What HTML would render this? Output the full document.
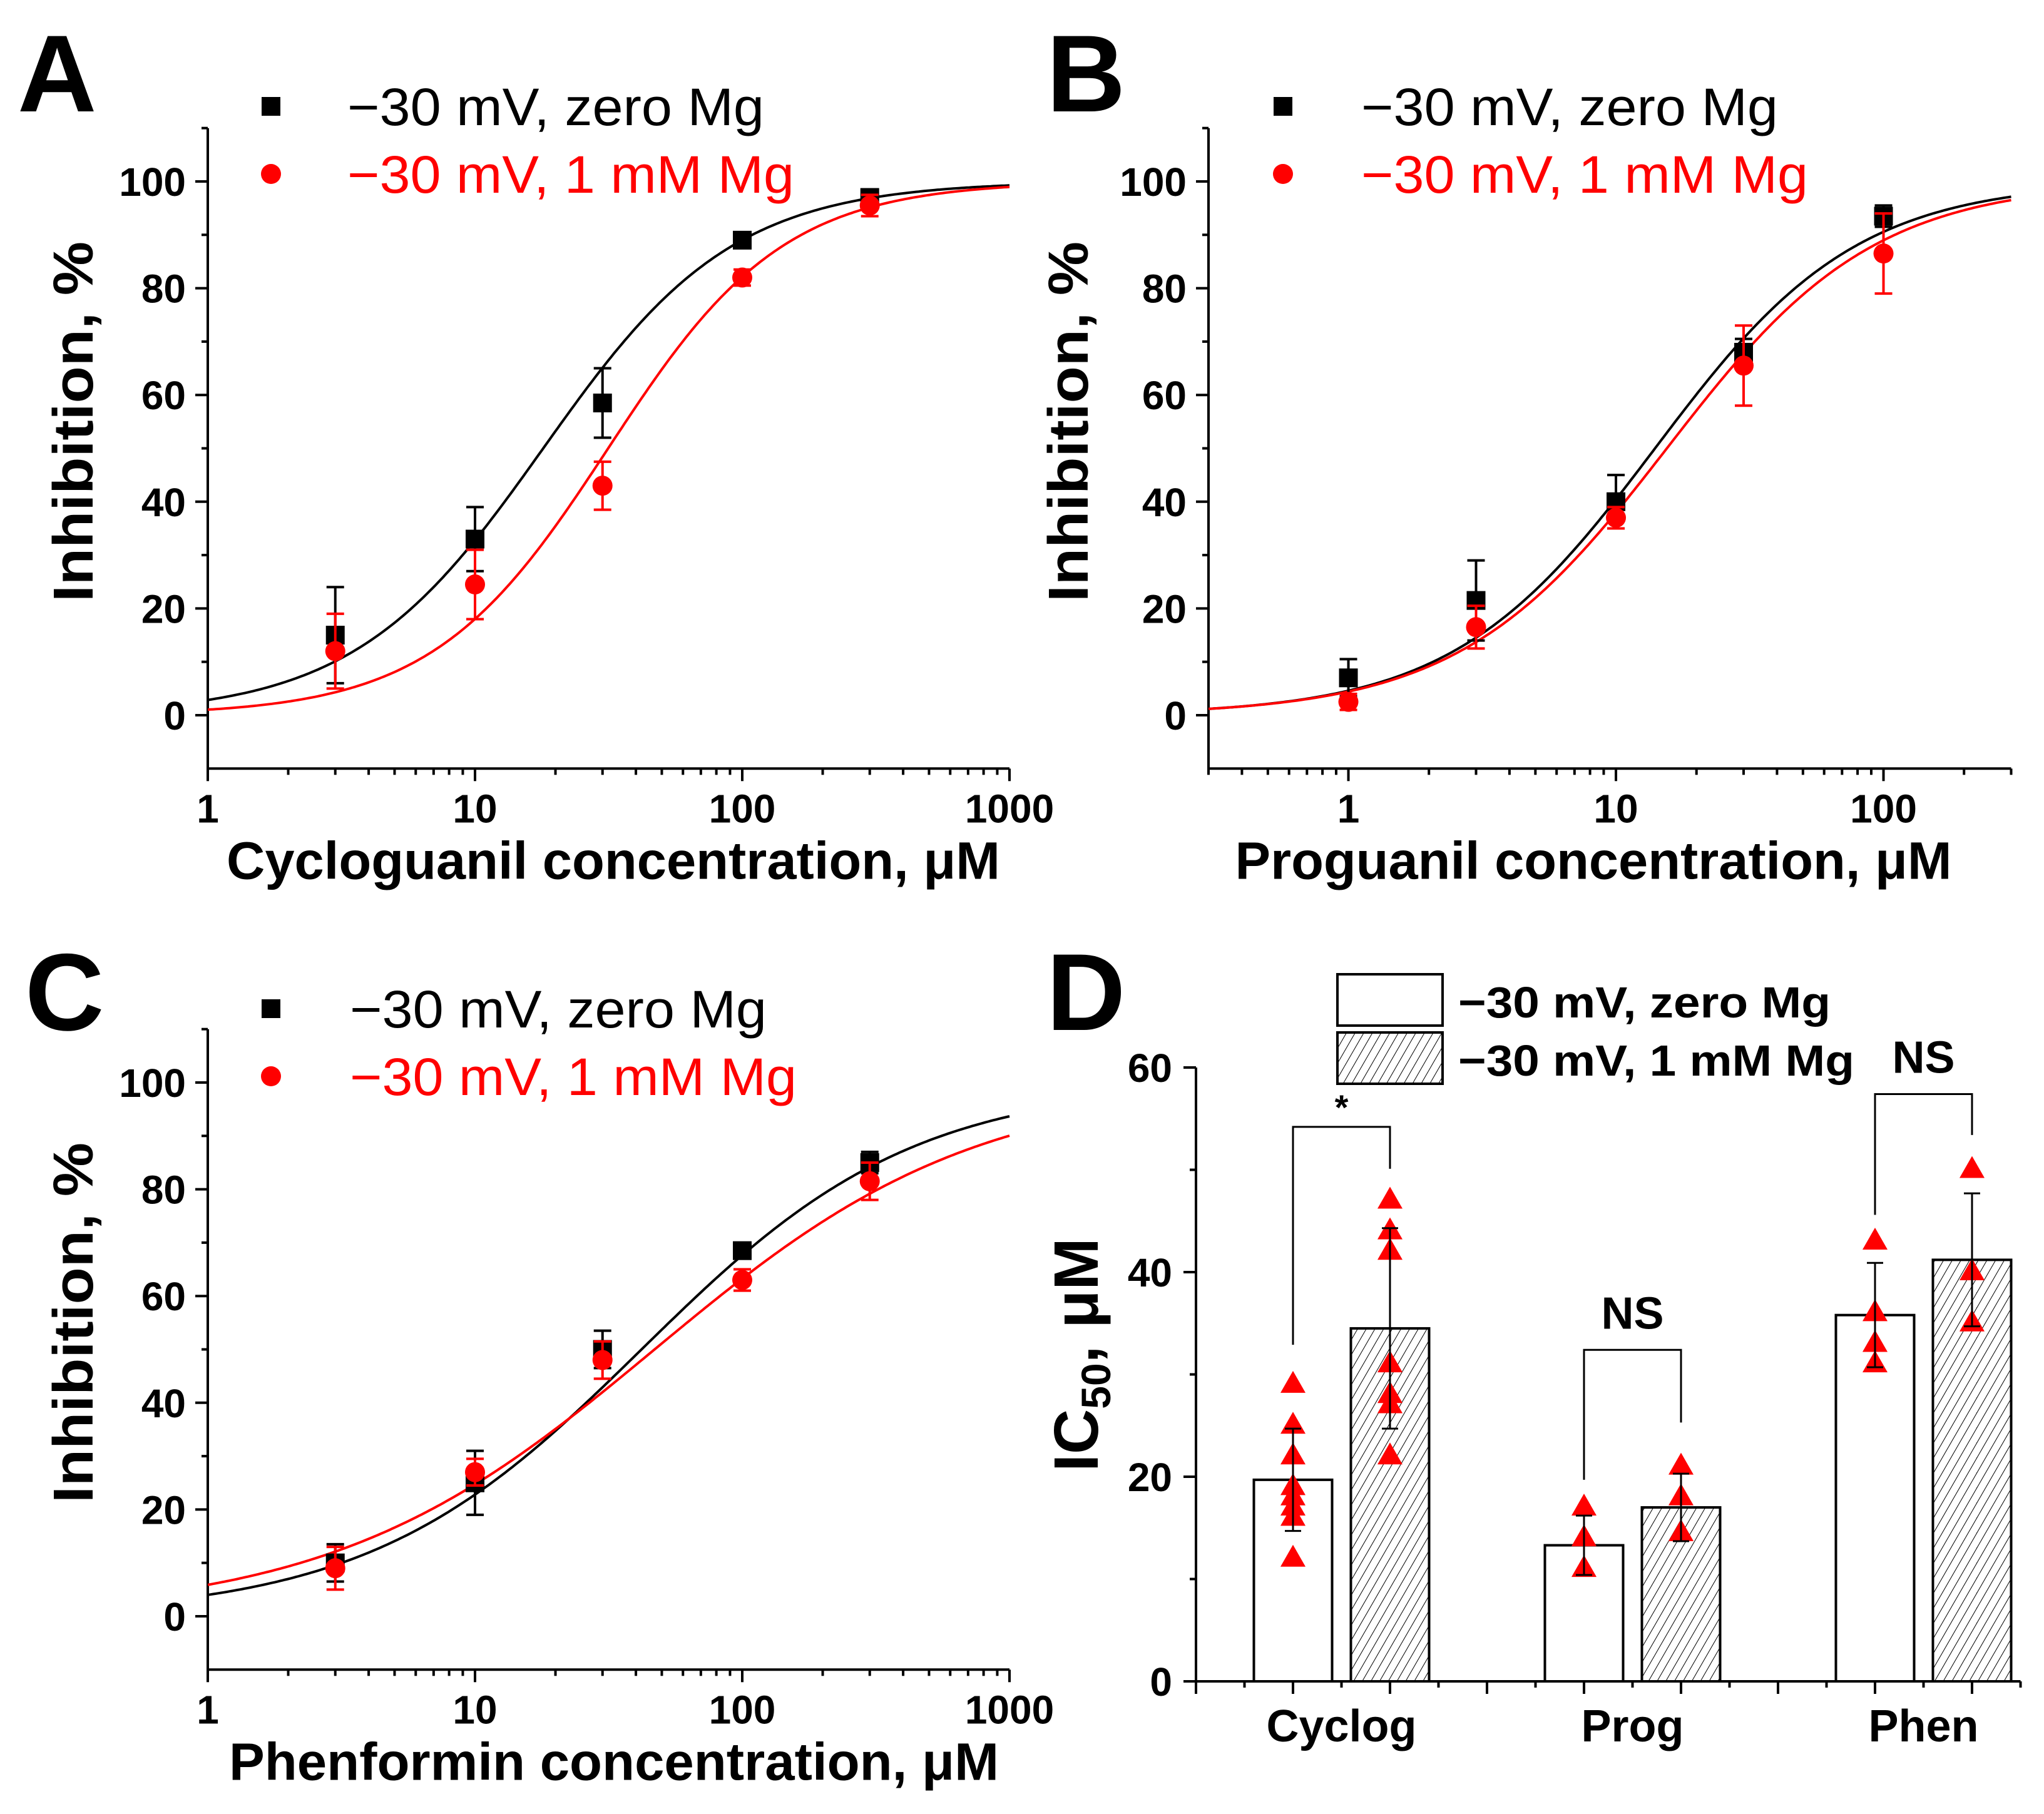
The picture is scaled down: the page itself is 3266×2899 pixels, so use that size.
<!DOCTYPE html>
<html><head><meta charset="utf-8"><style>
html,body{margin:0;padding:0;background:#fff}
svg{display:block}
text{font-family:"Liberation Sans",Arial,sans-serif}
</style></head><body>
<svg id="fig" xmlns="http://www.w3.org/2000/svg" width="3266" height="2899" viewBox="0 0 3266 2899">
<defs>
<pattern id="hatch" patternUnits="userSpaceOnUse" width="12" height="12" patternTransform="rotate(30)">
<rect width="12" height="12" fill="#fff"/>
<line x1="0" y1="0" x2="0" y2="12" stroke="#000" stroke-width="2"/>
</pattern>
</defs>
<rect width="3266" height="2899" fill="#fff"/>
</svg>
<script>
// ---------- Panel A data (Cycloguanil) ----------
const concA = [3, 10, 30, 100, 300];
const zeroA = [15, 33, 58.5, 89, 97];
const zeroErrA = [9, 6, 6.5, 1.2, 1.5];
const mgA = [12, 24.5, 43, 82, 95.5];
const mgErrA = [7, 6.5, 4.5, 1.5, 2];
const fitZeroA = [18, 1.22];   // IC50, Hill
const fitMgA = [31.5, 1.32];
// ---------- Panel B data (Proguanil) ----------
const concB = [1, 3, 10, 30, 100];
const zeroB = [7, 21.5, 40, 68, 93.5];
const zeroErrB = [3.5, 7.5, 5, 2.5, 2];
const mgB = [2.5, 16.5, 37, 65.5, 86.5];
const mgErrB = [1.5, 4, 2, 7.5, 7.5];
const fitZeroB = [14, 1.15];
const fitMgB = [15.5, 1.12];
// ---------- Panel C data (Phenformin) ----------
const concC = [3, 10, 30, 100, 300];
const zeroC = [10, 25, 50, 68.5, 85];
const zeroErrC = [3.5, 6, 3.5, 1.5, 2];
const mgC = [9, 27, 48, 63, 81.5];
const mgErrC = [4, 2.5, 3.5, 2, 3.5];
const fitZeroC = [42, 0.85];
const fitMgC = [47, 0.72];
// ---------- Panel D data (IC50 bars) ----------
const drugs = ["Cyclog", "Prog", "Phen"];
const barZero = [19.7, 13.3, 35.8];
const barZeroErr = [5, 2.9, 5.1];
const barMg = [34.5, 17, 41.2];
const barMgErr = [9.8, 3.3, 6.5];
const ptsZero = [[29, 25, 22, 19, 18, 17, 16, 12], [17, 14, 11], [43, 36, 33, 31]];
const ptsMg = [[47, 44, 42, 31, 28, 27, 22], [21, 18, 14.5], [50, 40, 35]];
const sigLabels = ["*", "NS", "NS"];
const bracketLeft = [32.9, 19.7, 45.6];
const bracketTop = [54.2, 32.4, 57.4];
const bracketRight = [50.1, 25.3, 53.4];
const yTicksDose = [0, 20, 40, 60, 80, 100];
const yTicksD = [0, 20, 40, 60];

const NS = "http://www.w3.org/2000/svg";
const svg = document.getElementById("fig");
function mk(tag, attrs, parent) {
  const e = document.createElementNS(NS, tag);
  for (const k in attrs) e.setAttribute(k, attrs[k]);
  (parent || svg).appendChild(e);
  return e;
}
function txt(s, attrs, parent) { const t = mk("text", attrs, parent); t.textContent = s; return t; }

function hill(x, p) { const r = Math.pow(x / p[0], p[1]); return 100 * r / (1 + r); }

function dosePanel(cfg) {
  const g = mk("g", {});
  
  
  const lx = v => cfg.x0 + (Math.log10(v) - Math.log10(cfg.xmin)) * cfg.dec;
  const ly = v => cfg.y0 - v * cfg.sy;
  const xL = lx(cfg.xmin), xR = lx(cfg.xmax), yB = ly(-10), yT = ly(110);
  const ax = mk("path", {d: `M${xL} ${yT} V${yB} H${xR}`, fill: "none", stroke: "#000", "stroke-width": 4}, g);
  
  
  for (let v = 10; v <= 110; v += 20) {
    const t = mk("line", {x1: xL - 10, x2: xL, y1: ly(v), y2: ly(v), stroke: "#000", "stroke-width": 4}, g);
    
    
  }
  yTicksDose.forEach(v => {
    const t = mk("line", {x1: xL - 20, x2: xL, y1: ly(v), y2: ly(v), stroke: "#000", "stroke-width": 4}, g);
    
    
    const l = txt(String(v), {x: xL - 35, y: ly(v) + 23, "text-anchor": "end", "font-size": 64, "font-weight": "bold"}, g);
    
    
  });
  for (let d = Math.floor(Math.log10(cfg.xmin)); d <= Math.log10(cfg.xmax); d++) {
    for (let m = 1; m <= 9; m++) {
      const v = m * Math.pow(10, d);
      if (v < cfg.xmin * 0.999 || v > cfg.xmax * 1.001) continue;
      const major = m === 1;
      const t = mk("line", {x1: lx(v), x2: lx(v), y1: yB, y2: yB + (major ? 20 : 10), stroke: "#000", "stroke-width": 4}, g);
      
      
      if (major) {
        const l = txt(String(Math.round(v)), {x: lx(v), y: yB + 86, "text-anchor": "middle", "font-size": 64, "font-weight": "bold"}, g);
        
        
      }
    }
  }
  [[cfg.fitZ, "#000", "fit-curve-zero-mg"], [cfg.fitM, "#f00", "fit-curve-1mm-mg"]].forEach(([p, c, n]) => {
    let d = "";
    const a = Math.log10(cfg.xmin), b = Math.log10(cfg.xmax);
    for (let i = 0; i <= 300; i++) {
      const xv = Math.pow(10, a + (b - a) * i / 300);
      d += (i ? "L" : "M") + lx(xv).toFixed(1) + " " + ly(hill(xv, p)).toFixed(1);
    }
    const pth = mk("path", {d, fill: "none", stroke: c, "stroke-width": 4}, g);
    
    
  });
  function series(conc, vals, errs, color, square, nm) {
    conc.forEach((c, i) => {
      const x = lx(c), y = ly(vals[i]), yt = ly(vals[i] + errs[i]), yb = ly(vals[i] - errs[i]);
      const eb = mk("path", {d: `M${x} ${yt} V${yb} M${x - 14} ${yt} H${x + 14} M${x - 14} ${yb} H${x + 14}`, stroke: color, "stroke-width": 4, fill: "none"}, g);
      
      
      let m;
      if (square) m = mk("rect", {x: x - 15, y: y - 15, width: 30, height: 30, fill: color}, g);
      else m = mk("circle", {cx: x, cy: y, r: 16, fill: color}, g);
      
      
    });
  }
  series(cfg.conc, cfg.zero, cfg.zeroErr, "#000", true, "zero-mg");
  series(cfg.conc, cfg.mg, cfg.mgErr, "#f00", false, "1mm-mg");
  const s = mk("rect", {x: cfg.legX - 15, y: cfg.legY - 15, width: 30, height: 30, fill: "#000"}, g);
  
  
  const l1 = txt("\u221230 mV, zero Mg", {x: cfg.legTX, y: cfg.legY + 30, "font-size": 84, textLength: 666, lengthAdjust: "spacingAndGlyphs"}, g);
  
  
  const c2 = mk("circle", {cx: cfg.legX, cy: cfg.legY + 108, r: 16, fill: "#f00"}, g);
  
  
  const l2 = txt("\u221230 mV, 1 mM Mg", {x: cfg.legTX, y: cfg.legY + 138, "font-size": 84, fill: "#f00", textLength: 714, lengthAdjust: "spacingAndGlyphs"}, g);
  
  
  const yt = txt("Inhibition, %", {x: 0, y: 0, "text-anchor": "middle", "font-size": 90, "font-weight": "bold", transform: `translate(${cfg.yTitleX},${cfg.y0 - 469}) rotate(-90)`, textLength: 576, lengthAdjust: "spacingAndGlyphs"}, g);
  
  
  const xt = txt(cfg.xTitle, {x: cfg.xTitleX, y: yB + 176, "text-anchor": "middle", "font-size": 84, "font-weight": "bold", textLength: cfg.xTitleLen, lengthAdjust: "spacingAndGlyphs"}, g);
  
  
  const pl = txt(cfg.letter, {x: cfg.letterX, y: cfg.letterY, "font-size": 175, "font-weight": "bold"}, g);
  
  
}

dosePanel({name: "cycloguanil", letter: "A", letterX: 28, letterY: 178, x0: 332, xmin: 1, xmax: 1000, dec: 427, y0: 1143, sy: 8.53,
  conc: concA, zero: zeroA, zeroErr: zeroErrA, mg: mgA, mgErr: mgErrA, fitZ: fitZeroA, fitM: fitMgA,
  legX: 433, legY: 170, legTX: 555, yTitleX: 148, xTitle: "Cycloguanil concentration, \u03bcM", xTitleX: 980, xTitleLen: 1236});
dosePanel({name: "proguanil", letter: "B", letterX: 1672, letterY: 178, x0: 1931, xmin: 0.3, xmax: 300, dec: 427.5, y0: 1143, sy: 8.53,
  conc: concB, zero: zeroB, zeroErr: zeroErrB, mg: mgB, mgErr: mgErrB, fitZ: fitZeroB, fitM: fitMgB,
  legX: 2050, legY: 170, legTX: 2175, yTitleX: 1738, xTitle: "Proguanil concentration, \u03bcM", xTitleX: 2546, xTitleLen: 1145});
dosePanel({name: "phenformin", letter: "C", letterX: 40, letterY: 1646, x0: 332, xmin: 1, xmax: 1000, dec: 427, y0: 2583, sy: 8.53,
  conc: concC, zero: zeroC, zeroErr: zeroErrC, mg: mgC, mgErr: mgErrC, fitZ: fitZeroC, fitM: fitMgC,
  legX: 433, legY: 1612, legTX: 559, yTitleX: 148, xTitle: "Phenformin concentration, \u03bcM", xTitleX: 981, xTitleLen: 1230});

// ---------- Panel D ----------
(function () {
  const g = mk("g", {});
  
  
  const X0 = 1911, U = 155, Y0 = 2687, SY = 16.35;
  const bx = u => X0 + u * U;
  const by = v => Y0 - v * SY;
  const BW = 125;
  drugs.forEach((dname, i) => {
    const uz = 1 + 3 * i, um = 2 + 3 * i;
    const r1 = mk("rect", {x: bx(uz) - BW / 2, y: by(barZero[i]), width: BW, height: Y0 - by(barZero[i]), fill: "#fff", stroke: "#000", "stroke-width": 4}, g);
    
    
    const r2 = mk("rect", {x: bx(um) - BW / 2, y: by(barMg[i]), width: BW, height: Y0 - by(barMg[i]), fill: "url(#hatch)", stroke: "#000", "stroke-width": 4}, g);
    
    
    [[uz, ptsZero[i], barZero[i], barZeroErr[i]], [um, ptsMg[i], barMg[i], barMgErr[i]]].forEach(([u, pts, m, e]) => {
      const x = bx(u);
      pts.forEach(p => {
        const y = by(p);
        const tri = mk("path", {d: `M${x} ${y - 22} L${x + 20} ${y + 13} L${x - 20} ${y + 13} Z`, fill: "#f00"}, g);
        
        
      });
      const yt = by(m + e), yb = by(m - e);
      const eb = mk("path", {d: `M${x} ${yt} V${yb} M${x - 13} ${yt} H${x + 13} M${x - 13} ${yb} H${x + 13}`, stroke: "#000", "stroke-width": 3, fill: "none"}, g);
      
      
    });
    const br = mk("path", {d: `M${bx(uz)} ${by(bracketLeft[i])} V${by(bracketTop[i])} H${bx(um)} V${by(bracketRight[i])}`, fill: "none", stroke: "#000", "stroke-width": 3}, g);
    
    
    const st = txt(sigLabels[i], {x: (bx(uz) + bx(um)) / 2, y: by(bracketTop[i]) - (sigLabels[i] === "*" ? 12 : 34), "text-anchor": "middle", "font-size": sigLabels[i] === "*" ? 56 : 72, "font-weight": "bold"}, g);
    
    
    const cl = txt(dname, {x: (bx(uz) + bx(um)) / 2, y: 2783, "text-anchor": "middle", "font-size": 72, "font-weight": "bold"}, g);
    
    
  });
  const ax = mk("path", {d: `M${X0} ${by(60)} V${Y0} H${bx(8.5)}`, fill: "none", stroke: "#000", "stroke-width": 4}, g);
  
  
  for (let u = 0; u <= 8.5; u += 0.5) {
    const major = Number.isInteger(u);
    const t = mk("line", {x1: bx(u), x2: bx(u), y1: Y0, y2: Y0 + (major ? 20 : 10), stroke: "#000", "stroke-width": 4}, g);
    
    
  }
  for (let v = 10; v <= 50; v += 20) {
    const t = mk("line", {x1: X0 - 10, x2: X0, y1: by(v), y2: by(v), stroke: "#000", "stroke-width": 4}, g);
    
    
  }
  yTicksD.forEach(v => {
    const t = mk("line", {x1: X0 - 20, x2: X0, y1: by(v), y2: by(v), stroke: "#000", "stroke-width": 4}, g);
    
    
    const l = txt(String(v), {x: X0 - 38, y: by(v) + 23, "text-anchor": "end", "font-size": 64, "font-weight": "bold"}, g);
    
    
  });
  const yt = mk("text", {x: 0, y: 0, "text-anchor": "middle", "font-size": 100, "font-weight": "bold", transform: "translate(1754,2165) rotate(-90)"}, g);
  
  
  const t1 = mk("tspan", {}, yt); t1.textContent = "IC";
  const t2 = mk("tspan", {"font-size": 66, dy: 20}, yt); t2.textContent = "50";
  const t3 = mk("tspan", {dy: -20}, yt); t3.textContent = ", \u03bcM";
  const lb1 = mk("rect", {x: 2137, y: 1557, width: 168, height: 82, fill: "#fff", stroke: "#000", "stroke-width": 4}, g);
  
  
  const lb2 = mk("rect", {x: 2137, y: 1650, width: 168, height: 82, fill: "url(#hatch)", stroke: "#000", "stroke-width": 4}, g);
  
  
  const ll1 = txt("\u221230 mV, zero Mg", {x: 2330, y: 1626, "font-size": 70, "font-weight": "bold", textLength: 595, lengthAdjust: "spacingAndGlyphs"}, g);
  
  
  const ll2 = txt("\u221230 mV, 1 mM Mg", {x: 2330, y: 1719, "font-size": 70, "font-weight": "bold", textLength: 633, lengthAdjust: "spacingAndGlyphs"}, g);
  
  
  const pl = txt("D", {x: 1672, y: 1646, "font-size": 175, "font-weight": "bold"}, g);
  
  
})();
</script>
</body></html>
